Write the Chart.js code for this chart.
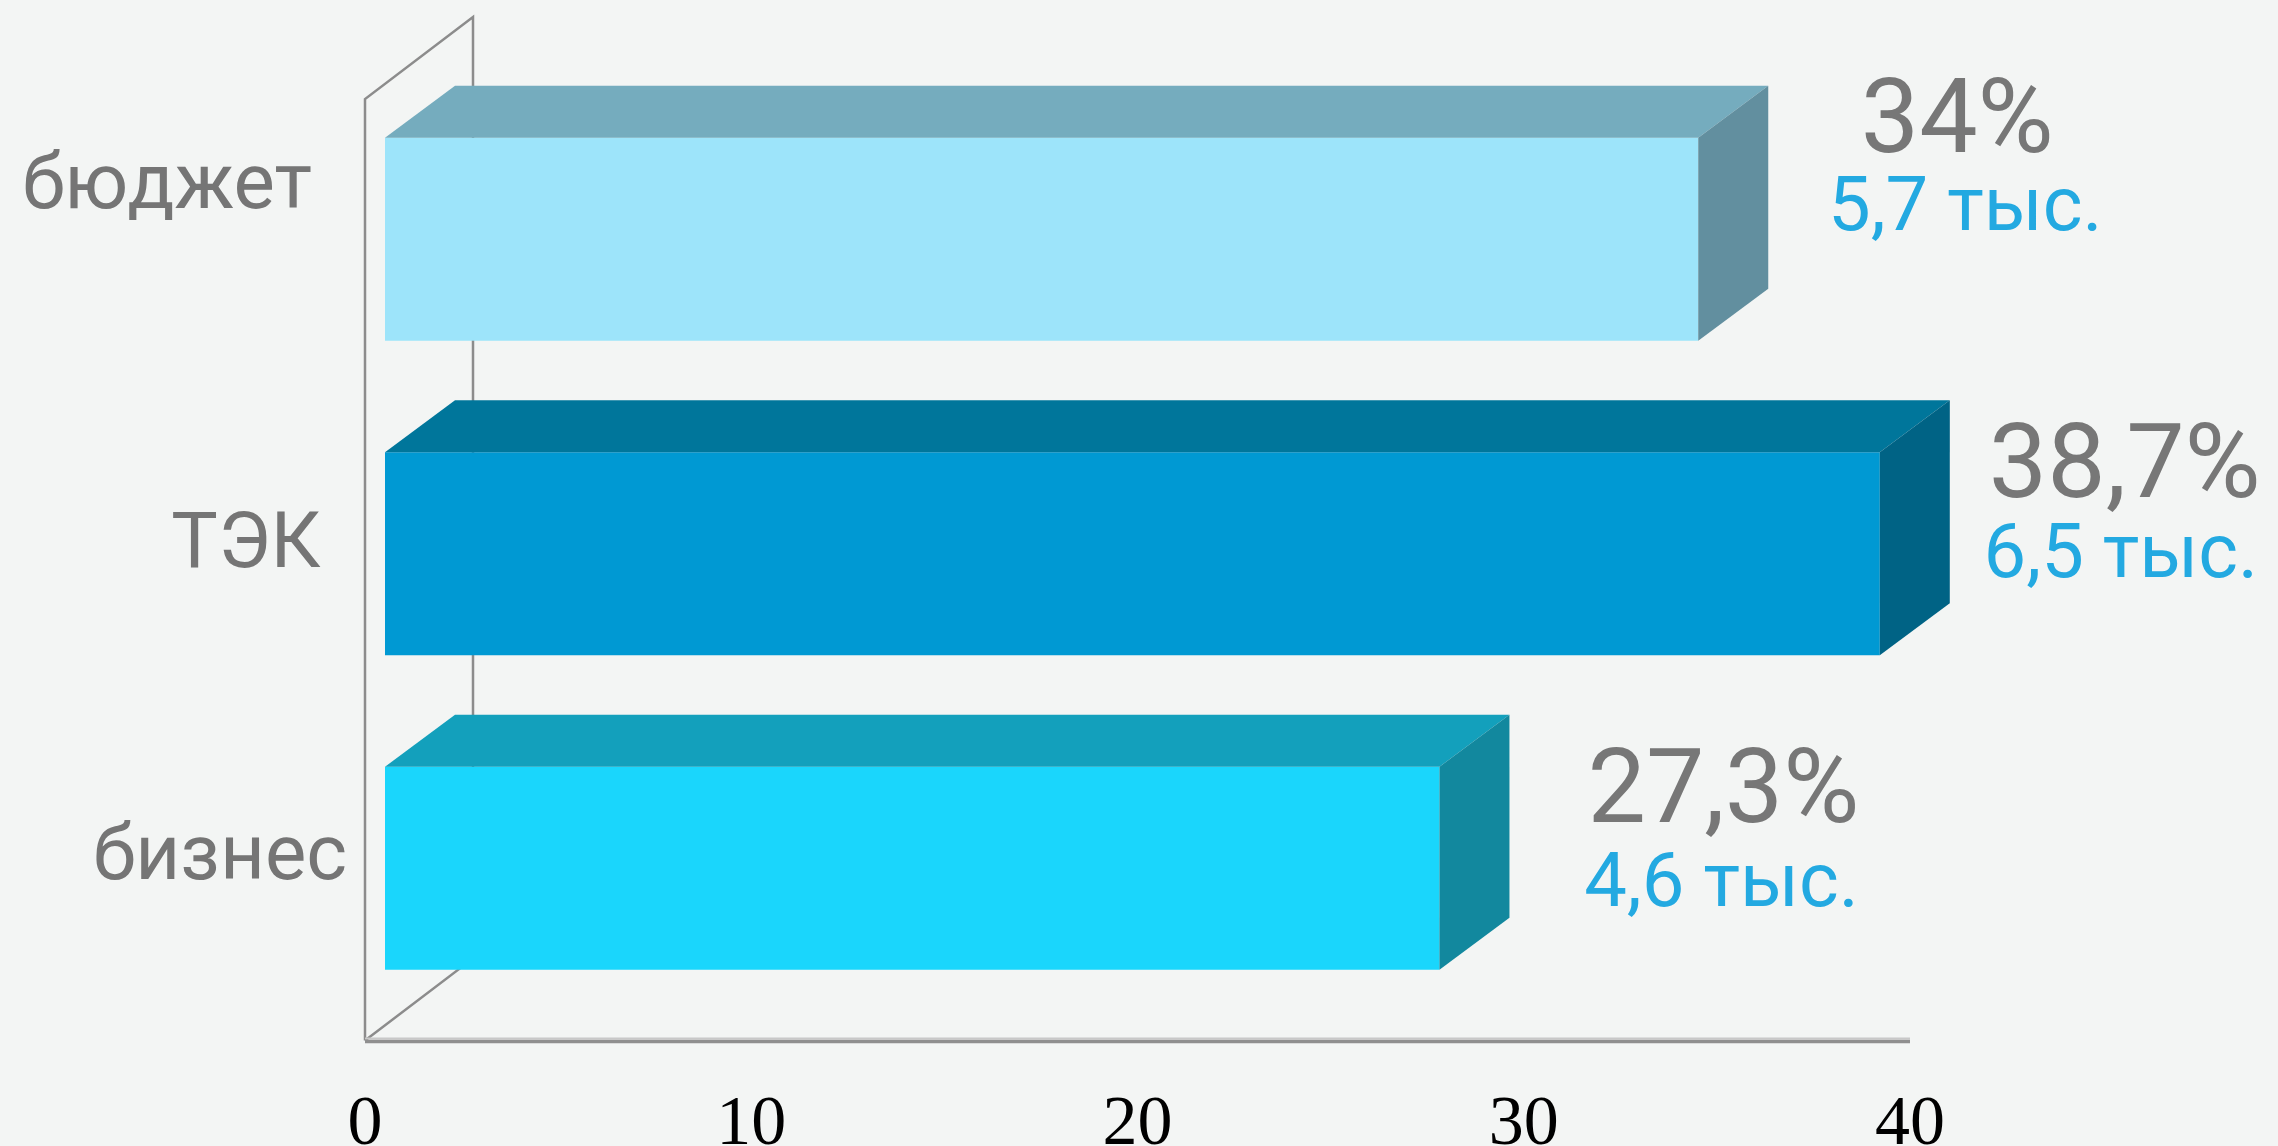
<!DOCTYPE html>
<html lang="ru">
<head>
  <meta charset="UTF-8">
  <title>Распределение</title>
  <script src="https://cdn.jsdelivr.net/npm/chart.js"></script>
  <style>
    html, body { margin: 0; padding: 0; background: #f3f5f4; }
    #wrap { width: 2278px; height: 1146px; }
  </style>
</head>
<body>
  <div id="wrap"><canvas id="myChart" width="2278" height="1146"></canvas></div>
  <script>
    // data
    const categories = ['бюджет', 'ТЭК', 'бизнес'];
    const shares = [34, 38.7, 27.3];          // %
    const thousands = [5.7, 6.5, 4.6];        // тыс.
    const tickValues = [0, 10, 20, 30, 40];

    // colours: front, top, side
    const frontColors = ['#9de4fa', '#0099d3', '#1ad6fc'];
    const topColors = ['#75acbe', '#00769b', '#13a0bc'];
    const sideColors = ['#628f9f', '#006385', '#12889e'];

    // layout tweaks (pixels)
    const depth = { dx: 70, dy: 52 };
    const wall = { dx: 108, dy: 82 };
    const axisShift = -20;
    const catLabelPos = [[167, -31], [246, 13.5], [220, 11]];   // center x, baseline offset from band center
    const valueLabelPos = [[259, 14.5, 267, 92.5], [245, 45, 241, 125], [284, 55.5, 282, 139.5]];

    const fmt = v => String(v).replace('.', ',');

    const box3d = {
      id: 'box3d',
      beforeDatasetsDraw(chart) {
        const ctx = chart.ctx;
        const xs = chart.scales.x;
        const area = chart.chartArea;
        const x0 = xs.getPixelForValue(0) + axisShift;
        const x1 = xs.getPixelForValue(40) + axisShift;
        const topY = area.top + 17;
        const floorY = area.bottom + 15;
        ctx.save();
        ctx.strokeStyle = '#8c8c8c';
        ctx.lineWidth = 2.5;
        ctx.beginPath();
        ctx.moveTo(x0, floorY);
        ctx.lineTo(x0, topY);
        ctx.lineTo(x0 + wall.dx, topY - wall.dy);
        ctx.lineTo(x0 + wall.dx, floorY - wall.dy);
        ctx.lineTo(x0, floorY);
        ctx.stroke();
        // floor line
        ctx.strokeStyle = '#c8c8c8';
        ctx.lineWidth = 2;
        ctx.beginPath();
        ctx.moveTo(x0, floorY - 2);
        ctx.lineTo(x1, floorY - 2);
        ctx.stroke();
        ctx.strokeStyle = '#8f8f8f';
        ctx.lineWidth = 3.5;
        ctx.beginPath();
        ctx.moveTo(x0, floorY + 1);
        ctx.lineTo(x1, floorY + 1);
        ctx.stroke();
        ctx.restore();
      },
      afterDatasetsDraw(chart) {
        const ctx = chart.ctx;
        const meta = chart.getDatasetMeta(0);
        ctx.save();
        meta.data.forEach(function (bar, i) {
          const p = bar.getProps(['x', 'y', 'base', 'height'], true);
          const top = p.y - p.height / 2;
          const bottom = p.y + p.height / 2;
          // top face
          ctx.fillStyle = topColors[i];
          ctx.beginPath();
          ctx.moveTo(p.base, top);
          ctx.lineTo(p.base + depth.dx, top - depth.dy);
          ctx.lineTo(p.x + depth.dx, top - depth.dy);
          ctx.lineTo(p.x, top);
          ctx.closePath();
          ctx.fill();
          // side face
          ctx.fillStyle = sideColors[i];
          ctx.beginPath();
          ctx.moveTo(p.x, top);
          ctx.lineTo(p.x + depth.dx, top - depth.dy);
          ctx.lineTo(p.x + depth.dx, bottom - depth.dy);
          ctx.lineTo(p.x, bottom);
          ctx.closePath();
          ctx.fill();

          // value labels
          const lp = valueLabelPos[i];
          ctx.textAlign = 'center';
          ctx.textBaseline = 'alphabetic';
          ctx.fillStyle = '#777777';
          ctx.font = '400 104px Roboto';
          ctx.fillText(fmt(shares[i]) + '%', p.x + lp[0], top + lp[1]);
          ctx.fillStyle = '#23a9e1';
          ctx.font = '400 76px Roboto';
          ctx.fillText(fmt(thousands[i]) + ' тыс.', p.x + lp[2], top + lp[3]);
        });
        ctx.restore();
      },
      afterDraw(chart) {
        const ctx = chart.ctx;
        const ys = chart.scales.y;
        ctx.save();
        ctx.fillStyle = '#757575';
        ctx.font = '400 78px Roboto';
        ctx.textAlign = 'center';
        ctx.textBaseline = 'alphabetic';
        categories.forEach(function (c, i) {
          const y = ys.getPixelForValue(i);
          ctx.fillText(c, catLabelPos[i][0], y + catLabelPos[i][1]);
        });
        ctx.restore();
      }
    };

    const ctx = document.getElementById('myChart');
    const chart = new Chart(ctx, {
      type: 'bar',
      data: {
        labels: categories,
        datasets: [{
          data: shares,
          backgroundColor: frontColors,
          borderWidth: 0,
          barPercentage: 0.645,
          categoryPercentage: 1
        }]
      },
      options: {
        indexAxis: 'y',
        responsive: false,
        animation: false,
        devicePixelRatio: 1,
        layout: { padding: { left: 385, right: 348, top: 82, bottom: 0 } },
        plugins: {
          legend: { display: false },
          tooltip: { enabled: false }
        },
        scales: {
          x: {
            type: 'linear',
            min: 0,
            max: 40,
            afterBuildTicks(scale) {
              scale.ticks = tickValues.map(v => ({ value: v }));
            },
            afterFit(scale) {
              scale.height = 120.5;
            },
            grid: { display: false },
            border: { display: false },
            ticks: {
              color: '#000000',
              font: { family: 'Liberation Serif', size: 70, lineHeight: 1 },
              padding: 57,
              labelOffset: axisShift,
              maxRotation: 0,
              autoSkip: false
            }
          },
          y: {
            display: false
          }
        }
      },
      plugins: [box3d]
    });
  </script>
</body>
</html>
